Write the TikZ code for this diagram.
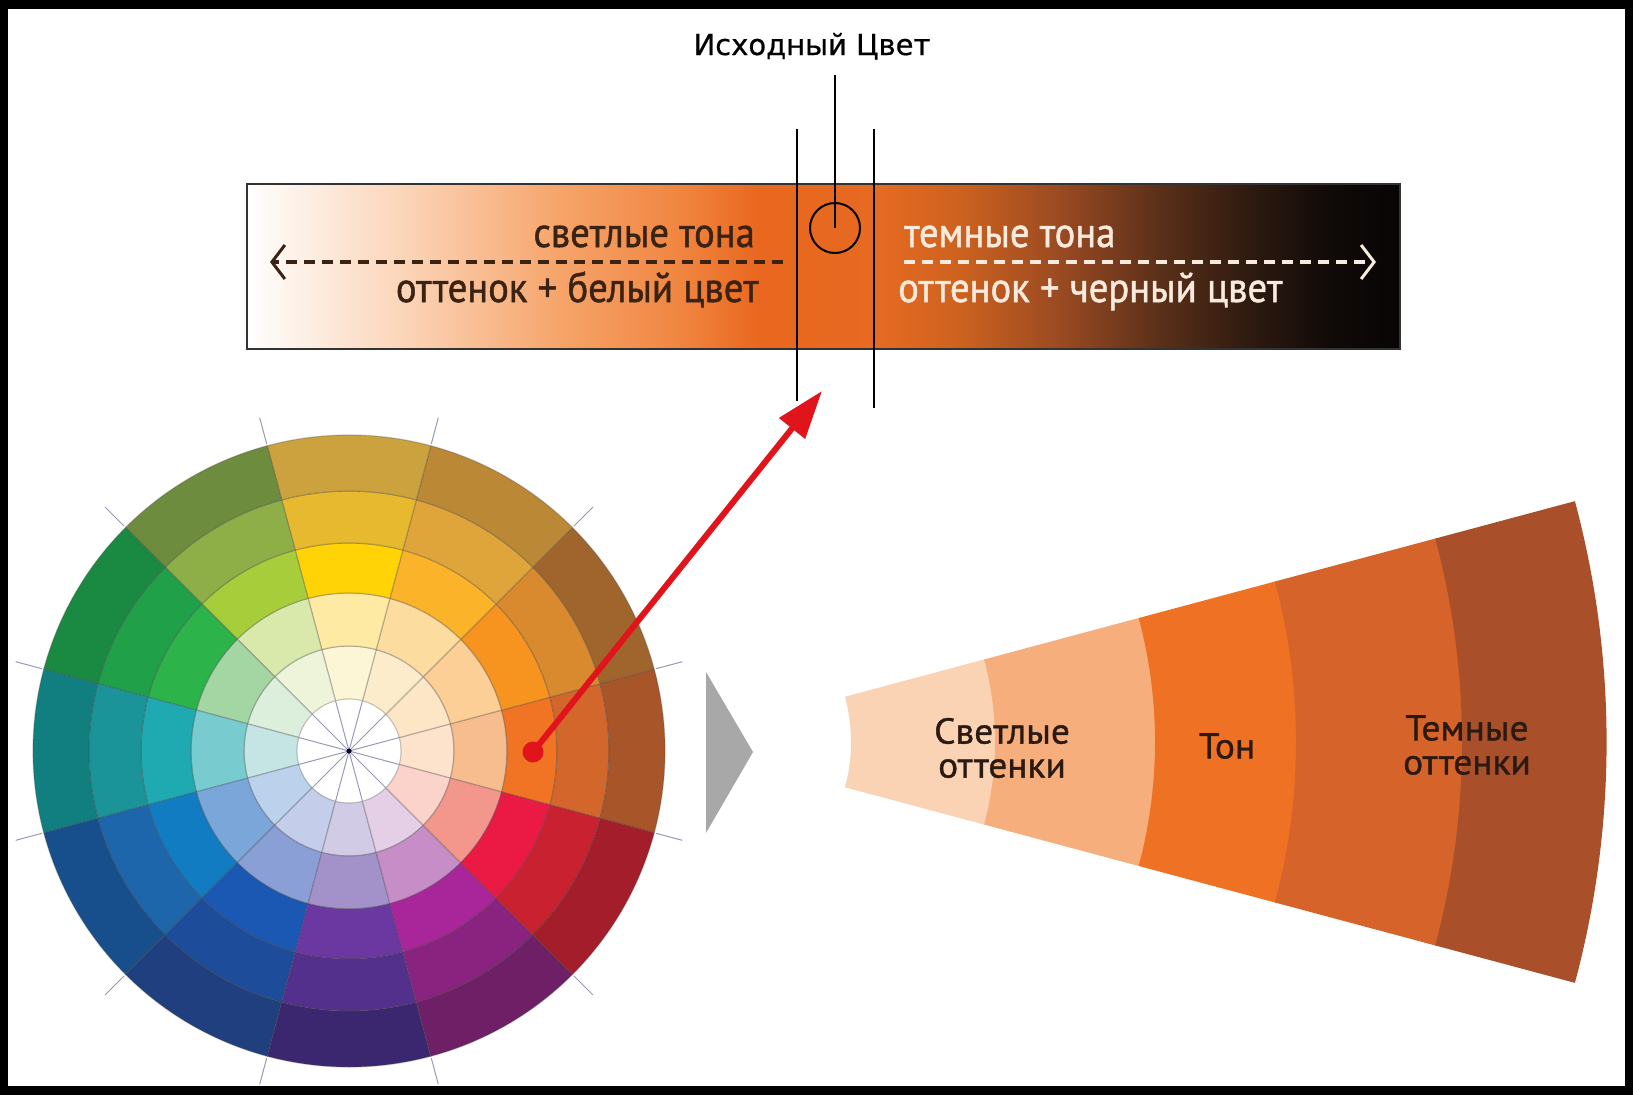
\documentclass[tikz,border=0pt]{standalone}
\usepackage{fontspec}
\setmainfont{PT Sans}
\newfontfamily\barfont[FakeStretch=0.92,FakeBold=1.2]{PT Sans}
\newfontfamily\fanfont[FakeStretch=1.04,FakeBold=1.0]{PT Sans}
\newfontfamily\titlefont[FakeBold=0.6]{DejaVu Sans}
\usetikzlibrary{arrows.meta}
% wheel colours: sector angle, rings a (inner) .. e (outer)
\definecolor{w0a}{HTML}{FDE2CC}\definecolor{w0b}{HTML}{F8BD8E}\definecolor{w0c}{HTML}{F07423}\definecolor{w0d}{HTML}{D2662B}\definecolor{w0e}{HTML}{A8552A}
\definecolor{w30a}{HTML}{FDE6C6}\definecolor{w30b}{HTML}{FBCF95}\definecolor{w30c}{HTML}{F6941F}\definecolor{w30d}{HTML}{D98A2E}\definecolor{w30e}{HTML}{A0652C}
\definecolor{w60a}{HTML}{FDECCB}\definecolor{w60b}{HTML}{FDDCA0}\definecolor{w60c}{HTML}{FBB329}\definecolor{w60d}{HTML}{E0A53A}\definecolor{w60e}{HTML}{BB8836}
\definecolor{w90a}{HTML}{FDF6D6}\definecolor{w90b}{HTML}{FEEAA2}\definecolor{w90c}{HTML}{FFD305}\definecolor{w90d}{HTML}{E6B92F}\definecolor{w90e}{HTML}{CBA23D}
\definecolor{w120a}{HTML}{EEF4DA}\definecolor{w120b}{HTML}{D9E9AC}\definecolor{w120c}{HTML}{A7CD3A}\definecolor{w120d}{HTML}{8EAE47}\definecolor{w120e}{HTML}{6E8C3E}
\definecolor{w150a}{HTML}{DCEFDC}\definecolor{w150b}{HTML}{A4D6A4}\definecolor{w150c}{HTML}{2CB34A}\definecolor{w150d}{HTML}{20A049}\definecolor{w150e}{HTML}{1A8A43}
\definecolor{w180a}{HTML}{C5E4E4}\definecolor{w180b}{HTML}{78CCCF}\definecolor{w180c}{HTML}{1EAAB0}\definecolor{w180d}{HTML}{1A9499}\definecolor{w180e}{HTML}{117F80}
\definecolor{w210a}{HTML}{BCD2EC}\definecolor{w210b}{HTML}{7AA6DA}\definecolor{w210c}{HTML}{127CC3}\definecolor{w210d}{HTML}{1D66AC}\definecolor{w210e}{HTML}{174F8C}
\definecolor{w240a}{HTML}{C4CDEA}\definecolor{w240b}{HTML}{8A9FD5}\definecolor{w240c}{HTML}{1B58B3}\definecolor{w240d}{HTML}{1D4C9A}\definecolor{w240e}{HTML}{1F3F7E}
\definecolor{w270a}{HTML}{D2CBE6}\definecolor{w270b}{HTML}{A392C9}\definecolor{w270c}{HTML}{6B37A1}\definecolor{w270d}{HTML}{54308D}\definecolor{w270e}{HTML}{3B2670}
\definecolor{w300a}{HTML}{E5CFE6}\definecolor{w300b}{HTML}{C68DC6}\definecolor{w300c}{HTML}{A8269A}\definecolor{w300d}{HTML}{8A237F}\definecolor{w300e}{HTML}{6E1F66}
\definecolor{w330a}{HTML}{FBD3CB}\definecolor{w330b}{HTML}{F3978D}\definecolor{w330c}{HTML}{EB1A44}\definecolor{w330d}{HTML}{C9212F}\definecolor{w330e}{HTML}{A41D2A}
% fan colours
\definecolor{f1}{HTML}{FAD3B4}\definecolor{f2}{HTML}{F6AE7C}\definecolor{f3}{HTML}{EF7224}\definecolor{f4}{HTML}{D5632A}\definecolor{f5}{HTML}{A9502A}
\definecolor{darktext}{HTML}{3B2314}
\definecolor{lighttext}{HTML}{F8EADC}
\definecolor{fantext}{HTML}{2B1A12}
\definecolor{arrowred}{HTML}{E0141A}
\definecolor{tickcol}{HTML}{9A98B8}
\begin{document}
\begin{tikzpicture}[x=1pt,y=-1pt,
  barline/.style={draw=black!80,line width=2pt},
  guide/.style={draw=black,line width=2pt},
  cell/.style={draw=black!70,draw opacity=0.3,line width=1.2pt},
  spoke/.style={draw=tickcol,line width=1pt},
  wtick/.style={draw=tickcol,line width=1pt},
  lightdash/.style={draw=darktext,line width=3.5pt,dash pattern=on 11pt off 7pt,-{Straight Barb[length=13pt,width=34pt,line width=3pt]}},
  darkdash/.style={draw=lighttext,line width=3.5pt,dash pattern=on 11pt off 7pt,-{Straight Barb[length=13pt,width=34pt,line width=3pt]}},
  redarrow/.style={draw=arrowred,line width=6pt,-{Triangle[length=48pt,width=32pt]}},
  reddot/.style={circle,fill=arrowred,minimum size=21pt,inner sep=0pt},
  bartext/.style={font=\barfont\fontsize{42}{50}\selectfont,inner sep=0pt},
  fanlabel/.style={font=\fanfont\fontsize{36}{34}\selectfont,text=fantext,inner sep=0pt,align=center,anchor=center},
  pointer/.style={fill=black!34}
]
\useasboundingbox (0,0) rectangle (1633,1095);
\fill[black] (0,0) rectangle (1633,1095);
\fill[white] (8,9) rectangle (1625,1086);

% ---- gradient bar ----
\foreach \xa/\xb/\ca/\cb in {247/310/FFFFFF/FDEEE2,310/420/FDEEE2/FBD0B0,420/560/FBD0B0/F6A46A,560/680/F6A46A/F08540,680/760/F08540/E9671E,760/880/E9671E/E66A22,880/960/E66A22/CC621F,960/1060/CC621F/9A4A22,1060/1160/9A4A22/5A3019,1160/1250/5A3019/2E1A10,1250/1330/2E1A10/100A08,1330/1400/100A08/080505}{
  \definecolor{la}{HTML}{\ca}\definecolor{lb}{HTML}{\cb}
  \shade[left color=la,right color=lb] (\xa-0.6,184) rectangle (\xb+0.6,349);
}
\node[barline,minimum width=1153pt,minimum height=165pt,inner sep=0pt,outer sep=0pt] (bar) at (823.5,266.5) {};

% guide lines
\coordinate (v1t) at (797,129); \coordinate (v1b) at (797,401);
\coordinate (v2t) at (874,129); \coordinate (v2b) at (874,408);
\draw[guide] (v1t) -- (v1b);
\draw[guide] (v2t) -- (v2b);
\node[circle,draw=black,line width=2pt,minimum size=50pt,inner sep=0pt] (src) at (835,228) {};
\node[font=\titlefont\fontsize{29}{34}\selectfont,anchor=base,inner sep=0pt] (title) at (812,55) {Исходный Цвет};
\coordinate (tl) at (835,75);
\draw[guide] (tl) -- (src.center);

% dashed arrows
\coordinate (la0) at (783,262); \coordinate (la1) at (270,262);
\coordinate (ra0) at (904,262); \coordinate (ra1) at (1376,262);
\draw[lightdash] (la0) -- (la1);
\draw[darkdash] (ra0) -- (ra1);

% bar texts
\node[bartext,text=darktext,anchor=base east] (lt1) at (755,247) {светлые тона};
\node[bartext,text=darktext,anchor=base east] (lt2) at (759,302) {оттенок + белый цвет};
\node[bartext,text=lighttext,anchor=base west] (rt1) at (904,247) {темные тона};
\node[bartext,text=lighttext,anchor=base west] (rt2) at (898,302) {оттенок + черный цвет};

% ---- colour wheel ----
\begin{scope}[shift={(349,751)}]
\foreach \t in {0,30,...,330}{
  \foreach \j/\ri/\ro in {a/52/105,b/105/158,c/158/208,d/208/260,e/260/316}{
    \pgfmathsetmacro\aa{-\t-15}
    \pgfmathsetmacro\bb{-\t+15}
    \filldraw[cell,fill=w\t\j] (\aa:\ri) arc[start angle=\aa,end angle=\bb,radius=\ri] -- (\bb:\ro) arc[start angle=\bb,end angle=\aa,radius=\ro] -- cycle;
  }
}
\fill[white] (0,0) circle[radius=51];
\foreach \t in {15,45,...,345}{
  \draw[spoke] (0,0) -- (\t:52);
  \draw[wtick] (\t:318) -- (\t:345);
}
\fill[black!60!blue!40!black] (0,0) circle[radius=2.5];
\end{scope}

% ---- pointer triangle ----
\fill[pointer] (706,672) -- (753,752) -- (706,833) -- cycle;

% ---- fan ----
\begin{scope}[shift={(676,742)}]
\foreach \ri/\ro/\c in {175/319/f1,319/479/f2,479/620/f3,620/786/f4,786/930/f5}{
  \fill[\c] (-15:\ri) arc[start angle=-15,end angle=15,radius=\ri] -- (15:\ro+0.6) arc[start angle=15,end angle=-15,radius=\ro+0.6] -- cycle;
}
\end{scope}
\node[fanlabel] (light) at (1002,748) {Светлые\\оттенки};
\node[fanlabel] (tone) at (1227,746) {Тон};
\node[fanlabel] (dark) at (1467,745) {Темные\\оттенки};

% ---- red arrow ----
\node[reddot] (dot) at (533,752) {};
\coordinate (tip) at (822,391);
\draw[redarrow] (dot.center) -- (tip);
\end{tikzpicture}
\end{document}
